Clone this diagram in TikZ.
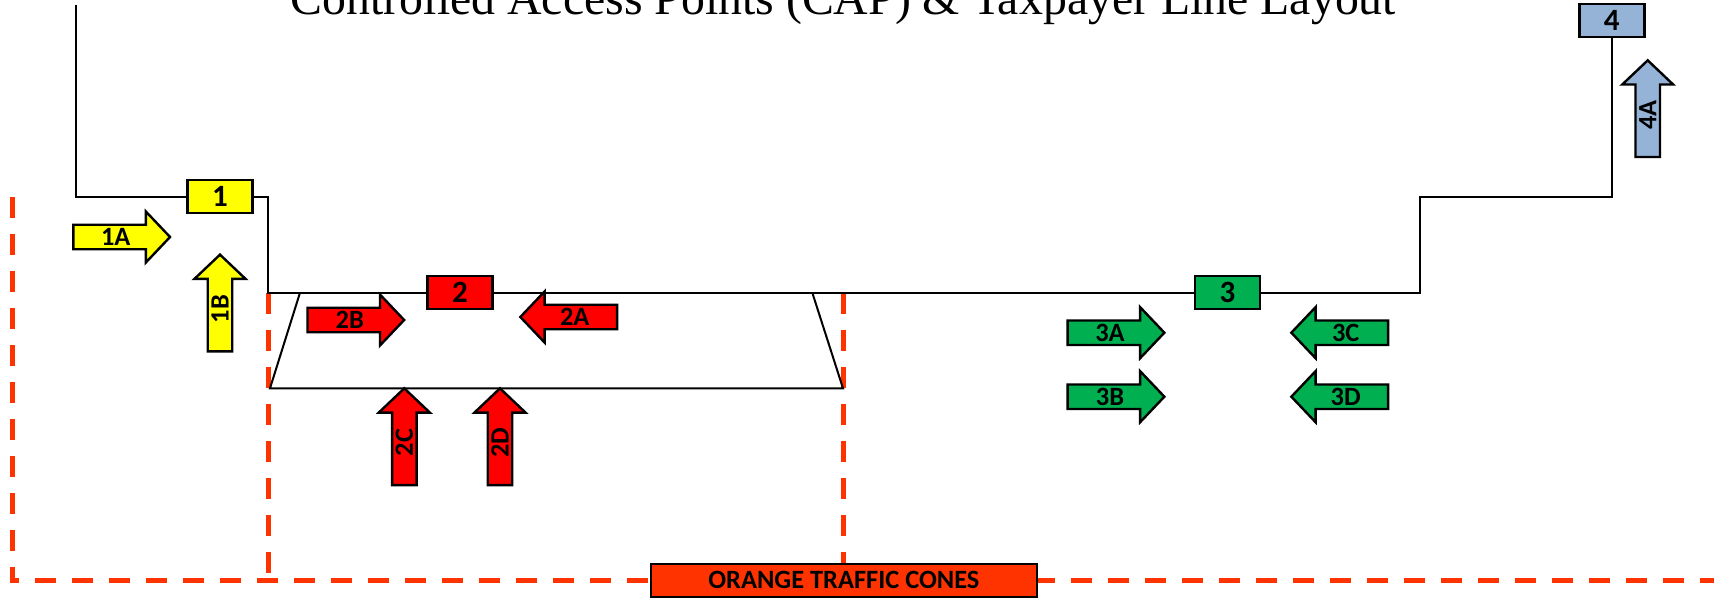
\documentclass[tikz,border=0pt]{standalone}
\usepackage{fontspec}
\newfontfamily\capfont{Carlito}
\newfontfamily\titlefont{Liberation Serif}
\definecolor{capyellow}{HTML}{FFFF00}
\definecolor{capred}{HTML}{FF0000}
\definecolor{capgreen}{HTML}{00B050}
\definecolor{capblue}{HTML}{95B3D7}
\definecolor{capor}{HTML}{FF3300}
\tikzset{
  wire/.style={draw=black, line width=1pt},
  cones/.style={draw=capor, line width=2.5pt, dash pattern=on 10.5pt off 8pt},
  capbox/.style={draw=black, line width=1.2pt, minimum width=32.5pt, minimum height=16.5pt, inner sep=0pt, font=\capfont\bfseries\fontsize{15.5}{15.5}\selectfont},
  arrbody/.style={draw=black, line width=1.2pt, line join=miter},
  lbl/.style={font=\capfont\bfseries\fontsize{13.2}{13.2}\selectfont, inner sep=0pt},
  pics/caparrow/.style n args={3}{code={
    \path[arrbody, fill=#1] (-48.35,-12.25) -- (24.15,-12.25) -- (24.15,-25.5) -- (48.35,0) -- (24.15,25.5) -- (24.15,12.25) -- (-48.35,12.25) -- cycle;
    \node[lbl,#3] (-label) at (-6,0) {#2};
  }},
}
\begin{document}
\begin{tikzpicture}[x=0.5pt,y=-0.5pt]
\useasboundingbox (0,0) rectangle (1714,599);
\clip (0,0) rectangle (1714,599);

% title
\node[anchor=base, inner sep=0pt, font=\titlefont\fontsize{23.9}{24}\selectfont] (title) at (843.5,15) {Controlled Access Points (CAP) \& Taxpayer Line Layout};

% orange traffic cone lines
\draw[cones] (12,197) -- (12,580.7) -- (1714,580.7);
\draw[cones] (268.3,293) -- (268.3,580.7);
\draw[cones] (843.9,292.7) -- (843.9,580.7);

% boxes
\node[capbox, fill=capyellow] (b1) at (220,196.7) {1};
\node[capbox, fill=capred] (b2) at (460,292.7) {2};
\node[capbox, fill=capgreen] (b3) at (1227.5,292.7) {3};
\node[capbox, fill=capblue] (b4) at (1611.8,20.8) {4};

% line layout
\coordinate (ltop) at (75.7,5);
\coordinate (step1) at (268.3,292.7);
\coordinate (step2) at (1420,196.7);
\draw[wire] (ltop) |- (b1.west);
\draw[wire] (b1.east) -| (step1) -- (b2.west);
\draw[wire] (b2.east) -- (b3.west);
\draw[wire] (b3.east) -| (step2) -| (b4.south);

% trapezoid
\coordinate (tl) at (300,292.7);
\coordinate (bl) at (270,388.3);
\coordinate (br) at (843,388.3);
\coordinate (tr) at (812.3,292.7);
\draw[wire] (tl) -- (bl) -- (br) -- (tr);

% arrows
\pic (a1A) at (121.7,237) {caparrow={capyellow}{1A}{}};
\pic[rotate=90] (a1B) at (220,303) {caparrow={capyellow}{1B}{transform shape}};
\pic (a2B) at (355.8,320) {caparrow={capred}{2B}{}};
\pic[rotate=180] (a2A) at (568.7,317) {caparrow={capred}{2A}{}};
\pic[rotate=90] (a2C) at (404.3,436.7) {caparrow={capred}{2C}{transform shape}};
\pic[rotate=90] (a2D) at (500,436.7) {caparrow={capred}{2D}{transform shape}};
\pic (a3A) at (1116,332.7) {caparrow={capgreen}{3A}{}};
\pic (a3B) at (1116,396.7) {caparrow={capgreen}{3B}{}};
\pic[rotate=180] (a3C) at (1339.7,332.7) {caparrow={capgreen}{3C}{}};
\pic[rotate=180] (a3D) at (1339.7,396.7) {caparrow={capgreen}{3D}{}};
\pic[rotate=90] (a4A) at (1647.7,108.7) {caparrow={capblue}{4A}{transform shape}};

% legend box
\node[draw=black, line width=1.2pt, fill=capor, minimum width=192.85pt, minimum height=16.35pt, inner sep=0pt, font=\capfont\bfseries\fontsize{13.2}{13.2}\selectfont] (cones) at (843.9,580.4) {ORANGE TRAFFIC CONES};
\end{tikzpicture}
\end{document}
